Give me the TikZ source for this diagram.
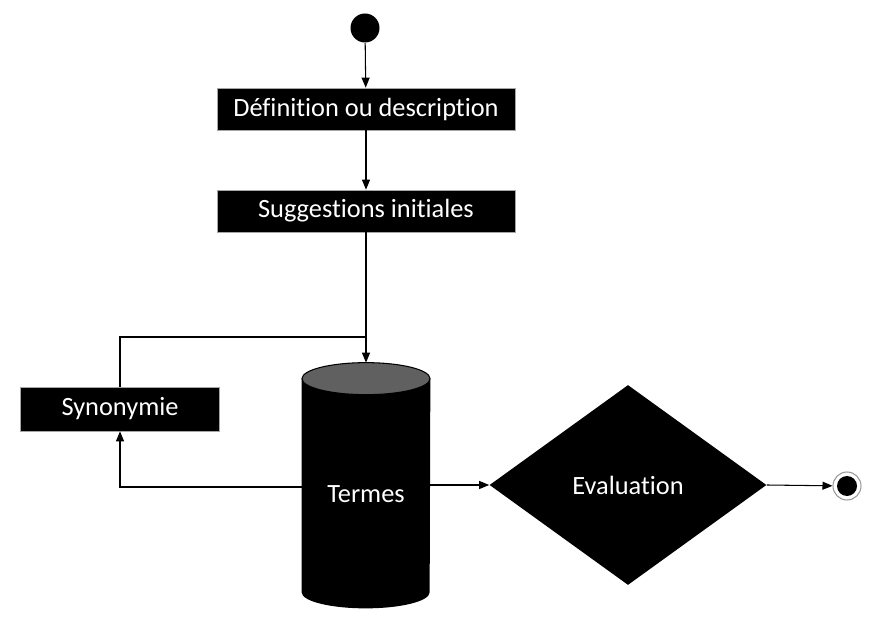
\documentclass[tikz,border=0pt]{standalone}
\usepackage{fontspec}
\setmainfont{Carlito}[Ligatures=NoCommon]
\usepackage{tikz}
\usetikzlibrary{arrows.meta, shapes.geometric}

\tikzset{
	box/.style={rectangle, draw=gray!70, fill=black, text=white, minimum width=5.96cm, minimum height=0.84cm, inner sep=0pt, font=\fontsize{15}{17}\selectfont},
	flow/.style={-{Triangle[length=2mm,width=1.6mm]}, line width=0.6pt},
	link/.style={line width=0.6pt}
}

\begin{document}
\begin{tikzpicture}
	\useasboundingbox (0,0) rectangle (17.64,-12.74);
	%start and end
	\node[circle,fill=black,inner sep=0pt,minimum size=0.58cm] (start) at (7.3,-0.56) {};
	\node[circle,draw=gray!80,line width=0.6pt,inner sep=0pt,minimum size=0.56cm,
		path picture={\fill[black] (path picture bounding box.center) circle (0.2cm);}] (end) at (16.94,-9.72) {};
	
	%boxes
	\node[box] (def)  at (7.32,-2.18) {Définition ou description};
	\node[box] (sugg) at (7.32,-4.22) {Suggestions initiales};
	\node[box, minimum width=3.98cm, minimum height=0.88cm] (syn) at (2.4,-8.18) {Synonymie};
	
	%store
	\node[minimum width=2.56cm, minimum height=4.9cm, inner sep=0pt] (termes) at (7.32,-9.71) {};
	\fill[black] ([yshift=-0.32cm]termes.north west) -- ([yshift=0.32cm]termes.south west)
		arc[start angle=180, end angle=360, x radius=1.28cm, y radius=0.32cm]
		-- ([yshift=-0.32cm]termes.north east) -- cycle;
	\filldraw[fill=gray!75!black, draw=black, line width=0.6pt] ([yshift=-0.32cm]termes.north) ellipse[x radius=1.28cm, y radius=0.32cm];
	\node[text=white, font=\fontsize{15}{17}\selectfont] (termeslbl) at ([yshift=-0.17cm]termes.center) {Termes};
	
	%decision
	\node[diamond, fill=black, text=white, inner sep=0pt, minimum width=5.54cm, minimum height=4cm,
		font=\fontsize{15}{17}\selectfont] (eval) at (12.56,-9.7) {Evaluation};
	
	%loop points
	\coordinate (loop) at (7.32,-6.74);
	\coordinate (back) at (termes.west |- 0,-9.74);
	
	%arrows
	\draw[flow] (start) -- (def);
	\draw[flow] (def) -- (sugg);
	\draw[flow] (sugg) -- (termes.north);
	\draw[link] (syn.north) |- (loop);
	\draw[flow] (back) -| (syn.south);
	\draw[flow] (termes.east |- eval.west) -- (eval.west);
	\draw[flow] (eval.east) -- (end);
\end{tikzpicture}
\end{document}
